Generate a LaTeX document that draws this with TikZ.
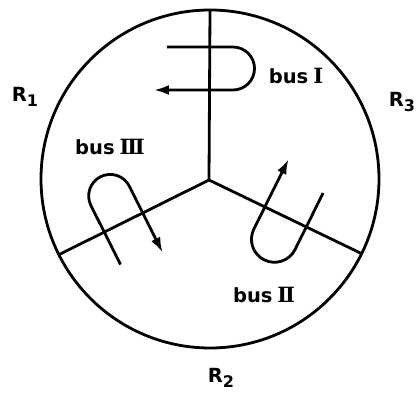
\documentclass[tikz,border=0pt]{standalone}
\usepackage{fontspec}
\setmainfont{DejaVu Sans}
\newfontfamily\numfont{DejaVu Serif}
\usetikzlibrary{arrows.meta}
\newcommand\busloop[6]{% #1 angle of boundary, #2 loop centre along it, #3 radius, #4 tail offset, #5 arc offset, #6 arrow offset
  \begin{scope}[rotate=#1-90]
    \draw[busline] (#4,#2+#3) -- (#5,#2+#3) arc[start angle=90,end angle=-90,radius=#3] -- (#6,#2-#3);
  \end{scope}}
\newcommand\Rsub[1]{R\raisebox{-5pt}{\fontsize{16}{16}\selectfont #1}}
\newcommand\busname[1]{bus\kern5pt{\numfont\fontsize{21}{24}\selectfont #1}}
\newcommand\nk{\kern-2.2pt}
\begin{document}
\begin{tikzpicture}[x=1pt,y=1pt,
  wire/.style={line width=2.8pt},
  busline/.style={line width=2.8pt,-{Latex[length=15pt,width=10pt]}},
  lbl/.style={font=\fontsize{19.5}{24}\selectfont\bfseries, inner sep=0pt}]
\useasboundingbox (-209,-216) rectangle (209,180);
\coordinate (O) at (0,0);
\coordinate (C) at (1,1);
\draw[wire] (C) circle[radius=169];
\path (C) ++(90:169) coordinate (eT);
\path (C) ++(206.6:169) coordinate (eL);
\path (C) ++(-26.2:169) coordinate (eR);
\draw[wire] (O) -- (eT);
\draw[wire] (O) -- (eL);
\draw[wire] (O) -- (eR);
% bus loops
\busloop{90}{111.5}{21.5}{-42}{24}{-55}
\busloop{206.6}{95.5}{21.5}{-36}{30}{-44}
\busloop{-26.4}{85}{23}{-39}{24}{-54}
% labels
\node[lbl] (b1) at (87,104) {\busname{I}};
\node[lbl] (b3) at (-99,33) {\busname{I\nk I\nk I}};
\node[lbl] (b2) at (55,-115) {\busname{I\nk I}};
\node[lbl] (r1) at (-184,83) {\Rsub{1}};
\node[lbl] (r3) at (193,78) {\Rsub{3}};
\node[lbl] (r2) at (12,-198) {\Rsub{2}};
\end{tikzpicture}
\end{document}
